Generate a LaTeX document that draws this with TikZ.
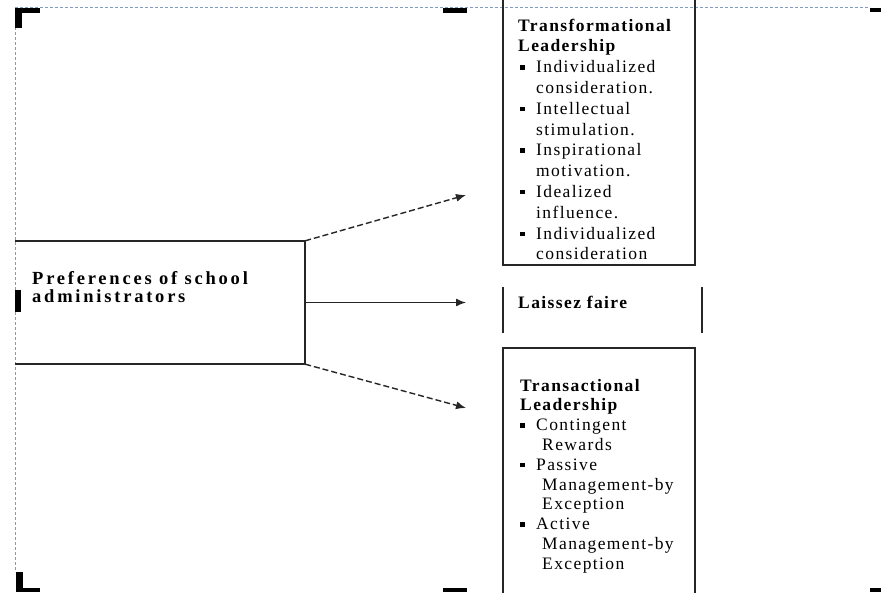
\documentclass[tikz,border=0pt]{standalone}
\usepackage{fontspec}
\setmainfont{Liberation Serif}
\usetikzlibrary{arrows.meta}
\definecolor{framec}{RGB}{130,155,195}
\newcommand\mybul{\llap{\raisebox{3pt}{\rule{4.5pt}{4.5pt}}\hspace{11.5pt}}}
\newcommand\rfont{\fontsize{17.5}{20}\selectfont\addfontfeature{LetterSpace=8}}
\newcommand\rbfont{\fontsize{17.5}{20}\selectfont\bfseries\addfontfeature{LetterSpace=8}}
\newcommand\lbfont{\fontsize{18.5}{20}\selectfont\bfseries\addfontfeature{LetterSpace=15}}
\tikzset{
  frameline/.style={draw=framec, line width=0.9pt, dash pattern=on 3pt off 2pt},
  boxline/.style={line width=1.6pt, draw=black!85},
  arr/.style={-{Latex[length=10pt,width=8pt]}, line width=1.4pt, draw=black!85},
  dasharr/.style={arr, dash pattern=on 6pt off 3pt},
  rtxt/.style={anchor=base west, inner sep=0pt, font=\rfont},
  rbtxt/.style={anchor=base west, inner sep=0pt, font=\rbfont},
  lbtxt/.style={anchor=base west, inner sep=0pt, font=\lbfont},
  emptybox/.style={inner sep=0pt, draw=none}
}
\begin{document}
\begin{tikzpicture}[x=1pt,y=-1pt]
\useasboundingbox (0,0) rectangle (881,592);
\clip (0,0) rectangle (881,592);
\fill[white] (0,0) rectangle (881,592);
% frame
\draw[frameline] (15,7) -- (870,7);
\draw[frameline] (15,7) -- (15,572);
% crop marks
\fill (15,8) rectangle (40,13);
\fill (15,8) rectangle (22,28);
\fill (16,572) rectangle (23,592);
\fill (16,588) rectangle (40,592);
\fill (443,8) rectangle (467,13);
\fill (443,588) rectangle (467,592);
\fill (870,8) rectangle (881,12);
\fill (870,588) rectangle (881,592);
\fill (15,290) rectangle (21,312);
% left box
\node[emptybox, minimum width=290pt, minimum height=123pt] (pref) at (160,302.5) {};
\draw[boxline] (pref.north west) -- (pref.north east) -- (pref.south east) -- (pref.south west);
\node[lbtxt] (p1) at (32,284) {Preferences of school};
\node[lbtxt] (p2) at (32,302.7) {administrators};
% transformational box
\node[boxline, draw, inner sep=0pt, minimum width=192pt, minimum height=270pt] (trf) at (599,130) {};
\node[rbtxt] (t1) at (518,31) {Transformational};
\node[rbtxt] (t2) at (518,51.8) {Leadership};
\node[rtxt] (t3) at (536,72.6) {\mybul Individualized};
\node[rtxt] (t4) at (536,93.4) {consideration.};
\node[rtxt] (t5) at (536,114.2) {\mybul Intellectual};
\node[rtxt] (t6) at (536,135) {stimulation.};
\node[rtxt] (t7) at (536,155.8) {\mybul Inspirational};
\node[rtxt] (t8) at (536,176.6) {motivation.};
\node[rtxt] (t9) at (536,197.4) {\mybul Idealized};
\node[rtxt] (t10) at (536,218.2) {influence.};
\node[rtxt] (t11) at (536,239) {\mybul Individualized};
\node[rtxt] (t12) at (536,259.8) {consideration};
% laissez faire
\node[emptybox, minimum width=199pt, minimum height=46pt] (lf) at (602.5,310) {};
\draw[boxline] (lf.north west) -- (lf.south west);
\draw[boxline] (lf.north east) -- (lf.south east);
\node[rbtxt] (l1) at (518,308) {Laissez faire};
% transactional box
\node[boxline, draw, inner sep=0pt, minimum width=192pt, minimum height=262pt] (trs) at (599,479) {};
\node[rbtxt] (s1) at (520,391) {Transactional};
\node[rbtxt] (s2) at (520,410.8) {Leadership};
\node[rtxt] (s3) at (536,430.6) {\mybul Contingent};
\node[rtxt] (s4) at (542,450.4) {Rewards};
\node[rtxt] (s5) at (536,470.2) {\mybul Passive};
\node[rtxt] (s6) at (542,490) {Management-by};
\node[rtxt] (s7) at (542,509.8) {Exception};
\node[rtxt] (s8) at (536,529.6) {\mybul Active};
\node[rtxt] (s9) at (542,549.4) {Management-by};
\node[rtxt] (s10) at (542,569.2) {Exception};
% arrows
\coordinate (e1) at (466,195);
\coordinate (e2) at (466,302.5);
\coordinate (e3) at (466,408);
\draw[dasharr] (pref.north east) -- (e1);
\draw[arr] (pref.east) -- (e2);
\draw[dasharr] (pref.south east) -- (e3);
\end{tikzpicture}
\end{document}
